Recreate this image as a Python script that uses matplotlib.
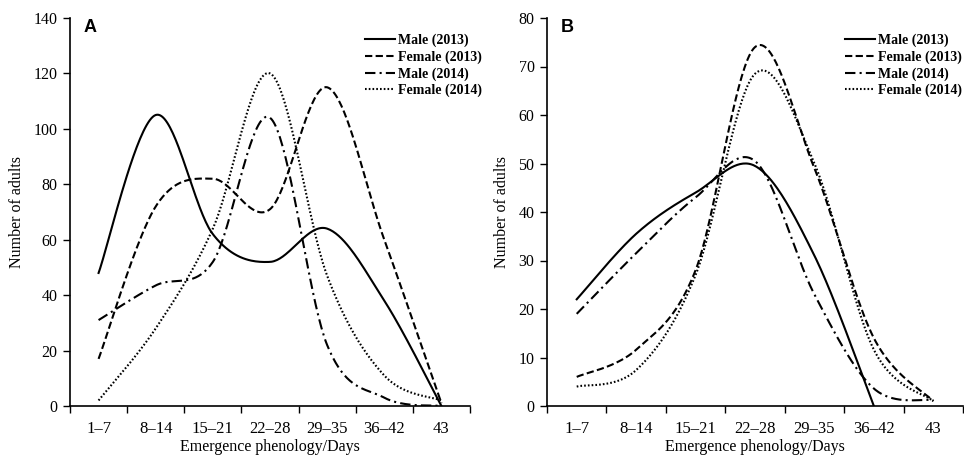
import numpy as np
import matplotlib
matplotlib.use("Agg")
import matplotlib.pyplot as plt

plt.rcParams['font.family'] = ['Liberation Serif', 'DejaVu Serif']

categories = ["1–7", "8–14", "15–21", "22–28", "29–35", "36–42", "43"]
series_names = ["Male (2013)", "Female (2013)", "Male (2014)", "Female (2014)"]

# Panel A
a_male_2013 = [48, 105, 62, 52, 64, 38, 0]
a_female_2013 = [17, 72, 82, 71, 115, 60, 1]
a_male_2014 = [31, 43.5, 52, 104, 22, 3, 0]
a_female_2014 = [2, 28, 64, 120, 47, 11, 2]

# Panel B (Male 2013 has no value for "43")
b_male_2013 = [22, 35.5, 44, 49.5, 31, 0]
b_female_2013 = [6, 11.6, 28, 74, 49, 14, 1]
b_male_2014 = [19, 31.5, 43, 50.5, 23, 3.6, 1.2]
b_female_2014 = [4, 7.4, 27, 68.5, 50, 11.6, 1]

styles = [
    dict(linestyle='-'),
    dict(linestyle=(0, (3.5, 1.6))),
    dict(linestyle=(0, (5, 2, 1, 2))),
    dict(linestyle=(0, (0.8, 1.0))),
]


def smooth(yvals, n=40):
    y = np.asarray(yvals, dtype=float)
    x = np.arange(len(y), dtype=float)
    xs, ys = [], []
    m = len(y)
    for i in range(m - 1):
        p0 = y[i - 1] if i > 0 else y[i]
        p1, p2 = y[i], y[i + 1]
        p3 = y[i + 2] if i + 2 < m else y[i + 1]
        x0 = x[i - 1] if i > 0 else x[i]
        x3 = x[i + 2] if i + 2 < m else x[i + 1]
        t = np.linspace(0, 1, n, endpoint=(i == m - 2))

        def cr(q0, q1, q2, q3):
            return 0.5 * ((2 * q1) + (-q0 + q2) * t + (2 * q0 - 5 * q1 + 4 * q2 - q3) * t ** 2
                          + (-q0 + 3 * q1 - 3 * q2 + q3) * t ** 3)
        xs.append(cr(x0, x[i], x[i + 1], x3))
        ys.append(cr(p0, p1, p2, p3))
    return np.concatenate(xs), np.concatenate(ys)


fig = plt.figure(figsize=(9.64, 4.66), dpi=100)
W, H = 964, 466
axA = fig.add_axes([70 / W, (H - 406) / H, 400 / W, 388 / H])
axB = fig.add_axes([547 / W, (H - 406) / H, 416 / W, 388 / H])


def draw(ax, data, ymax, ystep, label, legend_anchor):
    for vals, name, st in zip(data, series_names, styles):
        xs, ys = smooth(vals)
        ax.plot(xs, ys, color='black', linewidth=1.5, label=name, **st)
    ax.set_xlim(-0.5, len(categories) - 0.5)
    ax.set_ylim(0, ymax)
    ax.set_yticks(np.arange(0, ymax + 1, ystep))
    ax.set_xticks(np.arange(-0.5, len(categories), 1.0))
    ax.set_xticklabels([])
    ax.set_xticks(np.arange(len(categories)), minor=True)
    ax.set_xticklabels(categories, minor=True)
    ax.tick_params(axis='x', which='minor', length=0, pad=11, labelsize=12)
    ax.tick_params(axis='x', which='major', length=5, width=1, direction='out')
    ax.tick_params(axis='y', length=5, width=1, direction='out', labelsize=11.5, pad=4)
    for s in ['top', 'right']:
        ax.spines[s].set_visible(False)
    for s in ['left', 'bottom']:
        ax.spines[s].set_linewidth(1.2)
    ax.set_xlabel("Emergence phenology/Days", fontsize=11.5, labelpad=1)
    ax.set_ylabel("Number of adults", fontsize=11.5, labelpad=6)
    ax.text(0.034, 0.997, label, transform=ax.transAxes, fontsize=13, fontweight='bold',
            family='Liberation Sans', va='top', ha='left')
    ax.legend(loc='upper right', bbox_to_anchor=legend_anchor, bbox_transform=fig.transFigure,
              frameon=False, prop={'size': 10, 'weight': 'bold'}, handlelength=2.2,
              handletextpad=0.2, labelspacing=0.22, borderpad=0, borderaxespad=0)


draw(axA, [a_male_2013, a_female_2013, a_male_2014, a_female_2014], 140, 20, "A",
     (482 / W, (H - 34) / H))
draw(axB, [b_male_2013, b_female_2013, b_male_2014, b_female_2014], 80, 10, "B",
     (962 / W, (H - 34) / H))

fig.savefig("out.png", dpi=100)
